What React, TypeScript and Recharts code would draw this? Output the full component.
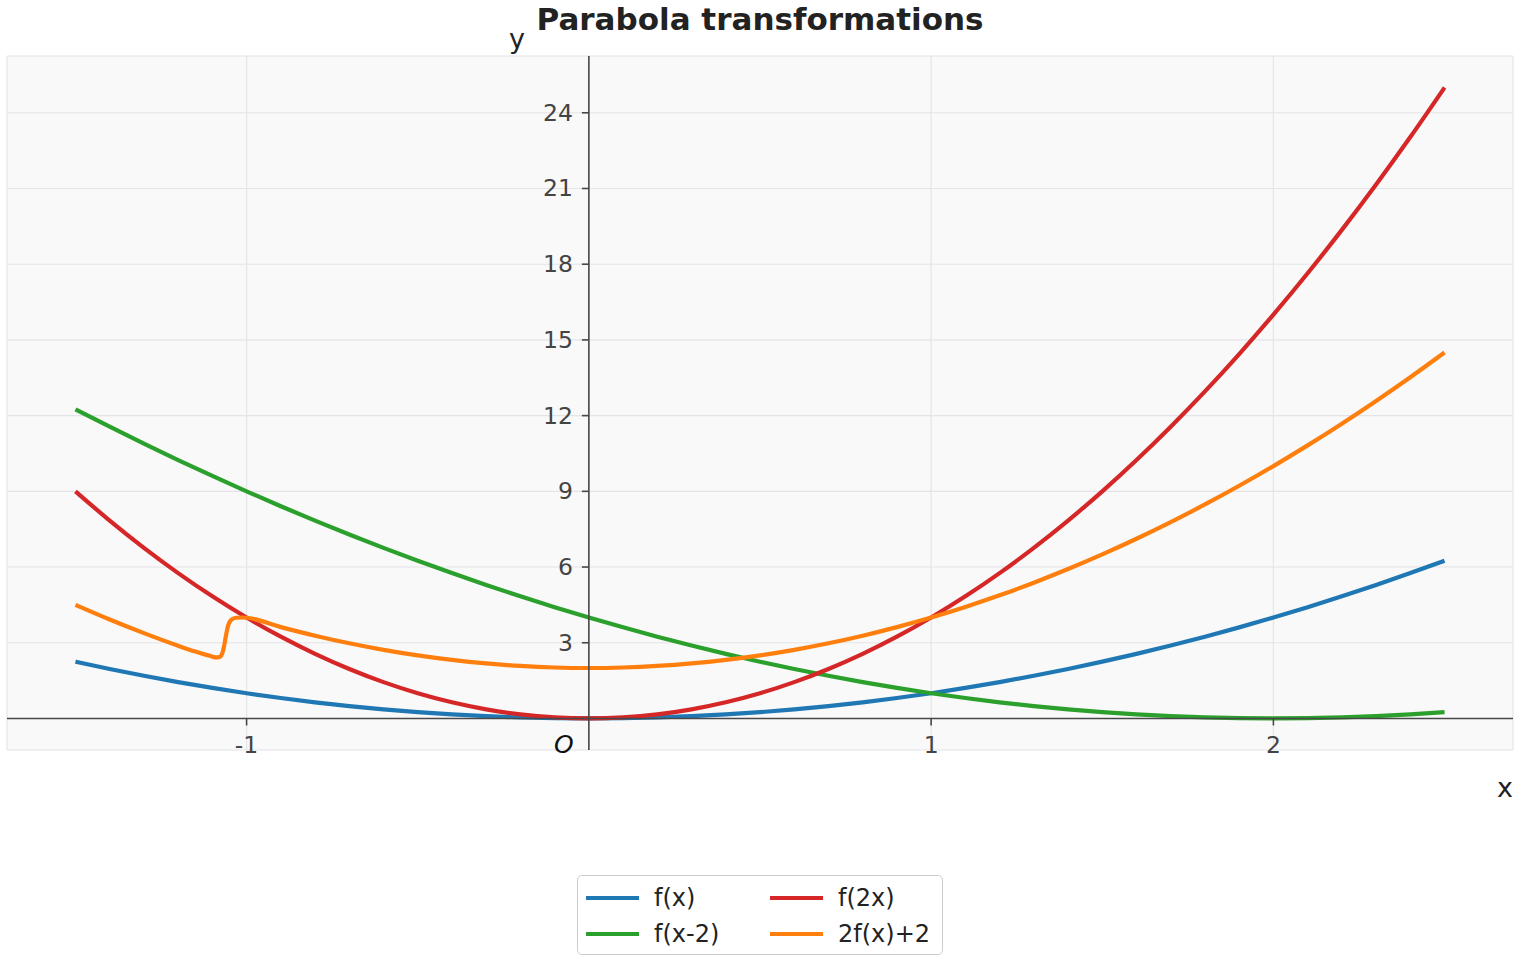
import React from 'react';
import { LineChart, Line, XAxis, YAxis, CartesianGrid, ReferenceLine, ReferenceDot, Legend } from 'recharts';

// sample positions (0.1 steps)
const xs = [
  -1.5, -1.4, -1.3, -1.2, -1.1, -1.0, -0.9, -0.8, -0.7, -0.6, -0.5, -0.4, -0.3, -0.2, -0.1,
  0.0, 0.1, 0.2, 0.3, 0.4, 0.5, 0.6, 0.7, 0.8, 0.9, 1.0, 1.1, 1.2, 1.3, 1.4, 1.5,
  1.6, 1.7, 1.8, 1.9, 2.0, 2.1, 2.2, 2.3, 2.4, 2.5,
];

const fx = [
  2.25, 1.96, 1.69, 1.44, 1.21, 1.0, 0.81, 0.64, 0.49, 0.36, 0.25, 0.16, 0.09, 0.04, 0.01,
  0, 0.01, 0.04, 0.09, 0.16, 0.25, 0.36, 0.49, 0.64, 0.81, 1.0, 1.21, 1.44, 1.69, 1.96, 2.25,
  2.56, 2.89, 3.24, 3.61, 4.0, 4.41, 4.84, 5.29, 5.76, 6.25,
];

const fxMinus2 = [
  12.25, 11.56, 10.89, 10.24, 9.61, 9.0, 8.41, 7.84, 7.29, 6.76, 6.25, 5.76, 5.29, 4.84, 4.41,
  4.0, 3.61, 3.24, 2.89, 2.56, 2.25, 1.96, 1.69, 1.44, 1.21, 1.0, 0.81, 0.64, 0.49, 0.36, 0.25,
  0.16, 0.09, 0.04, 0.01, 0, 0.01, 0.04, 0.09, 0.16, 0.25,
];

const f2x = [
  9.0, 7.84, 6.76, 5.76, 4.84, 4.0, 3.24, 2.56, 1.96, 1.44, 1.0, 0.64, 0.36, 0.16, 0.04,
  0, 0.04, 0.16, 0.36, 0.64, 1.0, 1.44, 1.96, 2.56, 3.24, 4.0, 4.84, 5.76, 6.76, 7.84, 9.0,
  10.24, 11.56, 12.96, 14.44, 16.0, 17.64, 19.36, 21.16, 23.04, 25.0,
];

// 2f(x)+2 has a kink near x = -1.06, so it gets its own sample positions
const orangeXs = [
  -1.5, -1.4, -1.3, -1.2, -1.15, -1.1, -1.09, -1.08, -1.072, -1.066, -1.06, -1.054, -1.048, -1.04, -1.03, -1.015,
  -1.0, -0.9, -0.8, -0.7, -0.6, -0.5, -0.4, -0.3, -0.2, -0.1,
  0.0, 0.1, 0.2, 0.3, 0.4, 0.5, 0.6, 0.7, 0.8, 0.9, 1.0, 1.1, 1.2, 1.3, 1.4, 1.5,
  1.6, 1.7, 1.8, 1.9, 2.0, 2.1, 2.2, 2.3, 2.4, 2.5,
];
const orangeYs = [
  4.5, 3.92, 3.38, 2.88, 2.65, 2.45, 2.42, 2.43, 2.55, 2.85, 3.3, 3.68, 3.86, 3.95, 3.99, 4.0,
  3.99, 3.62, 3.28, 2.98, 2.72, 2.5, 2.32, 2.18, 2.08, 2.02,
  2.0, 2.02, 2.08, 2.18, 2.32, 2.5, 2.72, 2.98, 3.28, 3.62, 4.0, 4.42, 4.88, 5.38, 5.92, 6.5,
  7.12, 7.78, 8.48, 9.22, 10.0, 10.82, 11.68, 12.58, 13.52, 14.5,
];

const xTicks = [-1, 1, 2];
const yTicks = [3, 6, 9, 12, 15, 18, 21, 24];
const gridX = [-1, 0, 1, 2];
const gridY = [0, 3, 6, 9, 12, 15, 18, 21, 24];

const series = [
  { name: 'f(x)', color: '#1f77b4', xsKey: xs, ys: fx },
  { name: 'f(x-2)', color: '#2ca02c', xsKey: xs, ys: fxMinus2 },
  { name: 'f(2x)', color: '#d62728', xsKey: xs, ys: f2x },
  { name: '2f(x)+2', color: '#ff7f0e', xsKey: orangeXs, ys: orangeYs },
];

const FONT = '"DejaVu Sans", sans-serif';
const AXIS = '#484848';
const LABEL = '#444444';

function LegendBox() {
  // matplotlib-style: two columns, filled column by column
  const cols = [[series[0], series[1]], [series[2], series[3]]];
  return (
    <div
      style={{
        boxSizing: 'border-box', width: 366, height: 80, border: '1.5px solid #cccccc',
        borderRadius: 5, background: '#fff', display: 'flex', padding: '4px 0 0 8px', fontFamily: FONT,
      }}
    >
      {cols.map((col, ci) => (
        <div key={ci} style={{ width: ci === 0 ? 184 : 170 }}>
          {col.map((s) => (
            <div key={s.name} style={{ display: 'flex', alignItems: 'center', height: 36 }}>
              <span style={{ display: 'inline-block', width: 53, height: 4, background: s.color, marginRight: 15 }} />
              <span style={{ fontSize: 24, color: '#222' }}>{s.name}</span>
            </div>
          ))}
        </div>
      ))}
    </div>
  );
}

export default function App() {
  return (
    <div style={{ position: 'absolute', left: 0, top: 0, width: 1520, height: 960, background: '#fff' }}>
      <LineChart width={1520} height={960} margin={{ top: 56, right: 7, bottom: 130, left: 7 }}>
        <CartesianGrid fill="#f9f9f9" stroke="#e4e4e8" strokeWidth={1.1} />
        <XAxis type="number" dataKey="x" domain={[-1.7, 2.7]} ticks={gridX} allowDataOverflow hide />
        <YAxis type="number" domain={[-1.25, 26.25]} ticks={gridY} allowDataOverflow hide />
        {series.map((s) => (
          <Line
            key={s.name}
            name={s.name}
            data={s.xsKey.map((x, i) => ({ x, y: s.ys[i] }))}
            dataKey="y"
            type="monotone"
            stroke={s.color}
            strokeWidth={4.2}
            dot={false}
            activeDot={false}
            isAnimationActive={false}
          />
        ))}
        <ReferenceLine x={0} stroke={AXIS} strokeWidth={1.6} />
        <ReferenceLine y={0} stroke={AXIS} strokeWidth={1.6} />
        {yTicks.map((v) => (
          <ReferenceDot
            key={'y' + v}
            x={0}
            y={v}
            r={0}
            shape={(p: any) => (
              <g>
                <line x1={p.cx - 7} y1={p.cy} x2={p.cx} y2={p.cy} stroke={AXIS} strokeWidth={1.6} />
                <text x={p.cx - 16} y={p.cy + 8} textAnchor="end" fontSize={23.5} fill={LABEL} fontFamily={FONT}>
                  {v}
                </text>
              </g>
            )}
          />
        ))}
        {xTicks.map((v) => (
          <ReferenceDot
            key={'x' + v}
            x={v}
            y={0}
            r={0}
            shape={(p: any) => (
              <g>
                <line x1={p.cx} y1={p.cy} x2={p.cx} y2={p.cy + 7} stroke={AXIS} strokeWidth={1.6} />
                <text x={p.cx} y={p.cy + 35} textAnchor="middle" fontSize={23.5} fill={LABEL} fontFamily={FONT}>
                  {v}
                </text>
              </g>
            )}
          />
        ))}
        <ReferenceDot
          x={0}
          y={0}
          r={0}
          shape={(p: any) => (
            <text x={p.cx - 25} y={p.cy + 35} textAnchor="middle" fontSize={25} fontStyle="italic" fill="#111" fontFamily={FONT}>
              O
            </text>
          )}
        />
        <Legend
          content={() => <LegendBox />}
          wrapperStyle={{ position: 'absolute', left: 577, top: 875, width: 366, height: 80 }}
        />
      </LineChart>
      <svg width={1520} height={960} style={{ position: 'absolute', left: 0, top: 0, pointerEvents: 'none' }}>
        <text x={760} y={30} textAnchor="middle" fontSize={31} fontWeight="bold" fill="#222" fontFamily={FONT}>
          Parabola transformations
        </text>
        <text x={517} y={48} textAnchor="middle" fontSize={27} fill="#222" fontFamily={FONT}>
          y
        </text>
        <text x={1505} y={797} textAnchor="middle" fontSize={27} fill="#222" fontFamily={FONT}>
          x
        </text>
      </svg>
    </div>
  );
}
